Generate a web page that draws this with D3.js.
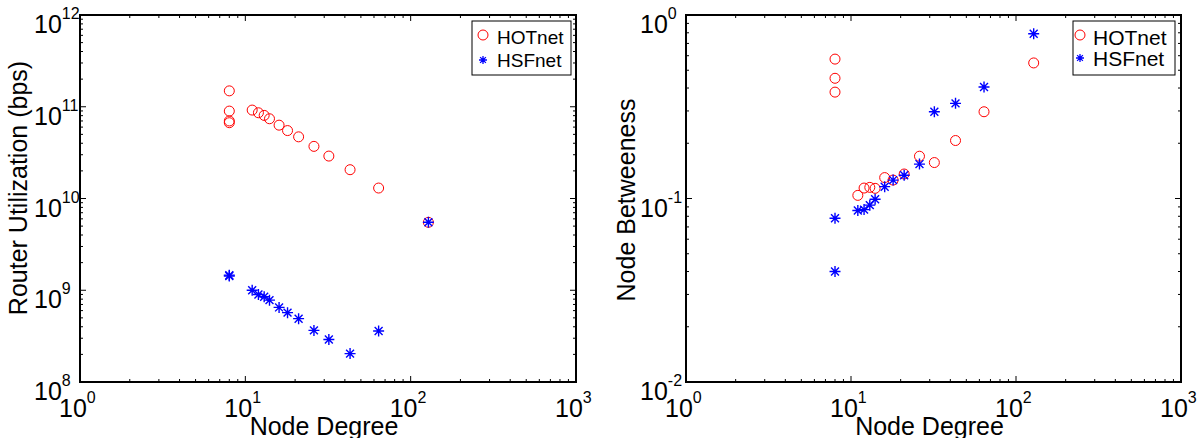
<!DOCTYPE html>
<html>
<head>
<meta charset="utf-8">
<script src="https://cdn.jsdelivr.net/npm/d3@7"></script>
<style>
  body { margin: 0; background: #fff; }
  svg text { font-family: "Liberation Sans", Arial, sans-serif; fill: #000; }
</style>
</head>
<body>
<div id="chart"></div>
<script>
///////////////////// Data ////////////////////////
// left panel: router utilization vs node degree
var hotDegL  = [8, 8, 8, 8, 11, 12, 13, 14, 16, 18, 21, 26, 32, 43, 64, 128];
var hotUtil  = [1.49e11, 8.97e10, 7.0e10, 6.7e10, 9.2e10, 8.6e10, 8.05e10, 7.4e10,
                6.3e10, 5.5e10, 4.7e10, 3.7e10, 2.9e10, 2.06e10, 1.3e10, 5.5e9];
var hsfDegL  = [8, 8, 11, 12, 13, 14, 16, 18, 21, 26, 32, 43, 64, 128];
var hsfUtil  = [1.46e9, 1.43e9, 1.0e9, 9.0e8, 8.5e8, 7.8e8, 6.5e8, 5.7e8,
                4.9e8, 3.65e8, 2.9e8, 2.04e8, 3.6e8, 5.5e9];

// right panel: node betweeness vs node degree
var hotDegR  = [8, 8, 8, 11, 12, 13, 14, 16, 18, 21, 26, 32, 43, 64, 128];
var hotBetw  = [0.575, 0.452, 0.380, 0.104, 0.114, 0.115, 0.1136, 0.130, 0.126,
                0.136, 0.170, 0.157, 0.207, 0.297, 0.548];
var hsfDegR  = [8, 8, 11, 12, 13, 14, 16, 18, 21, 26, 32, 43, 64, 128];
var hsfBetw  = [0.078, 0.040, 0.086, 0.087, 0.092, 0.099, 0.116, 0.126, 0.134,
                0.154, 0.297, 0.330, 0.405, 0.791];

var seriesNames = ["HOTnet", "HSFnet"];
var xDecades = [0, 1, 2, 3];            // exponents of the x tick labels
var yDecadesL = [8, 9, 10, 11, 12];
var yDecadesR = [-2, -1, 0];
//////////////////////////////////////////////////////////////////////

var width = 1199, height = 438;
var svg = d3.select("#chart").append("svg")
    .attr("width", width).attr("height", height);

var zip = function(xs, ys) { return xs.map(function(x, i) { return [x, ys[i]]; }); };

// asterisk marker like matlab's '*': a plus and an x
var starPath = function(s) {
  var d = s * 0.72;
  return "M0," + (-s) + "V" + s + "M" + (-s) + ",0H" + s +
         "M" + (-d) + "," + (-d) + "L" + d + "," + d +
         "M" + (-d) + "," + d + "L" + d + "," + (-d);
};

var drawPanel = function(cfg) {
  var x = d3.scaleLog().domain([1, 1000]).range([cfg.left, cfg.right]);
  var y = d3.scaleLog().domain(cfg.yDomain).range([cfg.bottom, cfg.top]);
  var g = svg.append("g");

  // minor + major ticks, inward on all four sides
  var xt = [], yt = [];
  for (var e = 0; e < 3; e++) for (var m = 1; m < 10; m++) xt.push(m * Math.pow(10, e));
  xt.push(1000);
  var y0 = Math.round(Math.log10(cfg.yDomain[0])), y1 = Math.round(Math.log10(cfg.yDomain[1]));
  for (var e = y0; e < y1; e++) for (var m = 1; m < 10; m++) yt.push(m * Math.pow(10, e));
  yt.push(Math.pow(10, y1));
  var isMajor = function(v) { return Math.abs(Math.log10(v) - Math.round(Math.log10(v))) < 1e-9; };

  xt.forEach(function(v) {
    var len = isMajor(v) ? 6 : 3, px = x(v);
    g.append("line").attr("x1", px).attr("x2", px).attr("y1", cfg.bottom).attr("y2", cfg.bottom - len)
      .attr("stroke", "#000").attr("stroke-width", 1);
    g.append("line").attr("x1", px).attr("x2", px).attr("y1", cfg.top).attr("y2", cfg.top + len)
      .attr("stroke", "#000").attr("stroke-width", 1);
  });
  yt.forEach(function(v) {
    var len = isMajor(v) ? 6 : 3, py = y(v);
    g.append("line").attr("x1", cfg.left).attr("x2", cfg.left + len).attr("y1", py).attr("y2", py)
      .attr("stroke", "#000").attr("stroke-width", 1);
    g.append("line").attr("x1", cfg.right).attr("x2", cfg.right - len).attr("y1", py).attr("y2", py)
      .attr("stroke", "#000").attr("stroke-width", 1);
  });

  // frame
  g.append("rect")
    .attr("x", cfg.left).attr("y", cfg.top)
    .attr("width", cfg.right - cfg.left).attr("height", cfg.bottom - cfg.top)
    .attr("fill", "none").attr("stroke", "#000").attr("stroke-width", 2);

  // x tick labels 10^k
  xDecades.forEach(function(k) {
    var t = g.append("text").attr("x", x(Math.pow(10, k)) - 21).attr("y", cfg.bottom + 35)
      .style("font-size", "25px");
    t.append("tspan").text("10");
    t.append("tspan").attr("dy", -14).style("font-size", "16px").text(k);
  });
  // y tick labels 10^k
  cfg.yDecades.forEach(function(k) {
    var t = g.append("text").attr("x", cfg.left - 46).attr("y", y(Math.pow(10, k)) + 18)
      .style("font-size", "25px");
    t.append("tspan").text("10");
    t.append("tspan").attr("dy", -14).style("font-size", "16px").text(k);
  });

  // axis labels
  g.append("text").attr("x", (cfg.left + cfg.right) / 2 - 4).attr("y", 435)
    .attr("text-anchor", "middle").style("font-size", "25px").text("Node Degree");
  g.append("text")
    .attr("transform", "translate(" + cfg.yLabelX + "," + cfg.yLabelY + ") rotate(-90)")
    .attr("text-anchor", "middle").style("font-size", "25px").text(cfg.yLabel);

  // HOTnet circles
  g.selectAll("circle.hot").data(zip(cfg.hotX, cfg.hotY)).enter().append("circle")
    .attr("class", "hot")
    .attr("cx", function(d) { return x(d[0]); })
    .attr("cy", function(d) { return y(d[1]); })
    .attr("r", 5)
    .attr("fill", "none").attr("stroke", "#ff0000").attr("stroke-width", 1);

  // HSFnet stars
  g.selectAll("path.hsf").data(zip(cfg.hsfX, cfg.hsfY)).enter().append("path")
    .attr("class", "hsf")
    .attr("transform", function(d) { return "translate(" + x(d[0]) + "," + y(d[1]) + ")"; })
    .attr("d", starPath(5.5))
    .attr("fill", "none").attr("stroke", "#0000ff").attr("stroke-width", 1.4);

  // legend
  var lg = cfg.legend;
  g.append("rect").attr("x", lg.x0).attr("y", lg.y0)
    .attr("width", lg.x1 - lg.x0).attr("height", lg.y1 - lg.y0)
    .attr("fill", "#fff").attr("stroke", "#000").attr("stroke-width", 1);
  g.append("circle").attr("cx", lg.mx).attr("cy", lg.rows[0] - 2).attr("r", 5)
    .attr("fill", "none").attr("stroke", "#ff0000");
  g.append("path").attr("transform", "translate(" + lg.mx + "," + lg.rows[1] + ")")
    .attr("d", starPath(4)).attr("fill", "none").attr("stroke", "#0000ff").attr("stroke-width", 1.3);
  seriesNames.forEach(function(name, i) {
    g.append("text").attr("x", lg.tx).attr("y", lg.rows[i] + lg.fs * 0.36)
      .style("font-size", lg.fs + "px").text(name);
  });
};

drawPanel({
  left: 80, right: 576, top: 15, bottom: 382,
  yDomain: [1e8, 1e12], yDecades: yDecadesL,
  yLabel: "Router Utilization (bps)", yLabelX: 27, yLabelY: 188,
  hotX: hotDegL, hotY: hotUtil, hsfX: hsfDegL, hsfY: hsfUtil,
  legend: { x0: 472, x1: 571, y0: 21, y1: 75, mx: 483, tx: 497, rows: [37, 60], fs: 19 }
});

drawPanel({
  left: 686, right: 1181, top: 15, bottom: 382,
  yDomain: [0.01, 1], yDecades: yDecadesR,
  yLabel: "Node Betweeness", yLabelX: 635, yLabelY: 200,
  hotX: hotDegR, hotY: hotBetw, hsfX: hsfDegR, hsfY: hsfBetw,
  legend: { x0: 1073, x1: 1175, y0: 21, y1: 75, mx: 1080, tx: 1093, rows: [37, 58], fs: 21 }
});
</script>
</body>
</html>
